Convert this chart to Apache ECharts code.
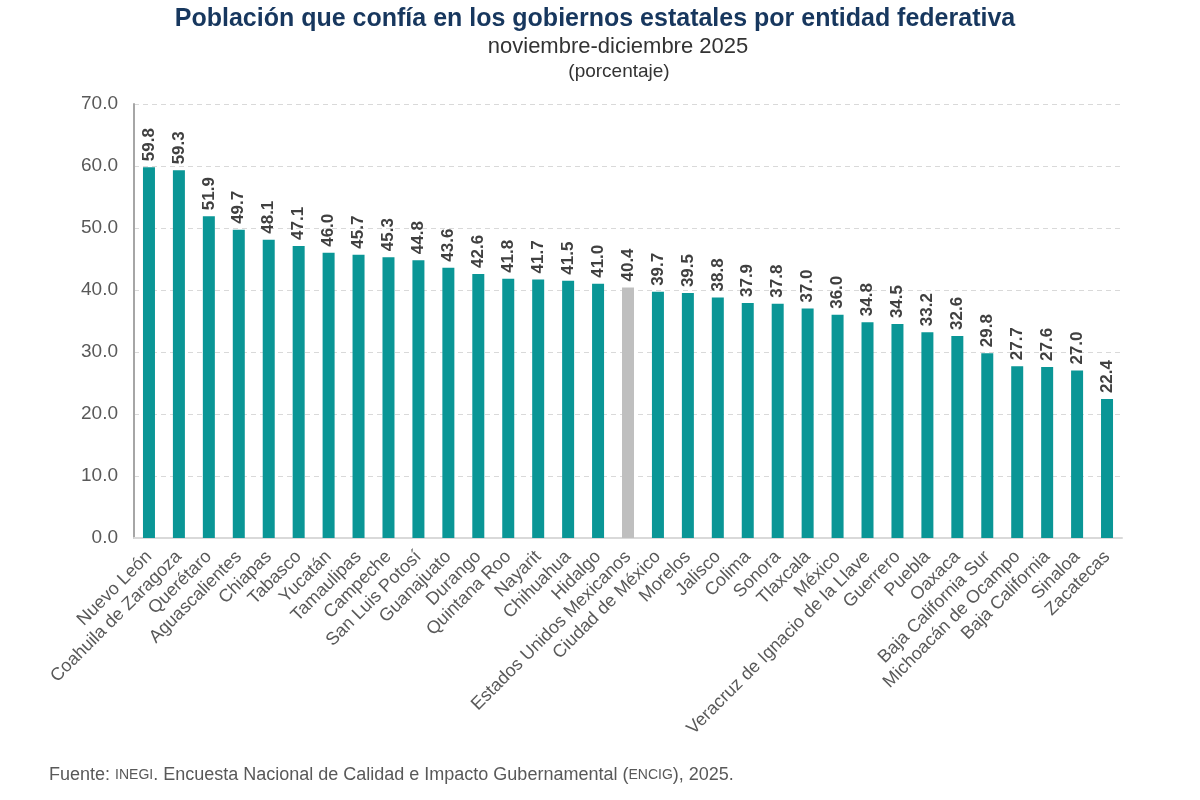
<!DOCTYPE html>
<html>
<head>
<meta charset="utf-8">
<script src="https://cdn.jsdelivr.net/npm/echarts@6/dist/echarts.min.js"></script>
<style>
html,body{margin:0;padding:0;background:#fff;}
#chart{width:1200px;height:800px;}
</style>
</head>
<body>
<div id="chart"></div>
<script>
var estados = ['Nuevo León','Coahuila de Zaragoza','Querétaro','Aguascalientes','Chiapas','Tabasco','Yucatán','Tamaulipas','Campeche','San Luis Potosí','Guanajuato','Durango','Quintana Roo','Nayarit','Chihuahua','Hidalgo','Estados Unidos Mexicanos','Ciudad de México','Morelos','Jalisco','Colima','Sonora','Tlaxcala','México','Veracruz de Ignacio de la Llave','Guerrero','Puebla','Oaxaca','Baja California Sur','Michoacán de Ocampo','Baja California','Sinaloa','Zacatecas'];
var valores = [59.8,59.3,51.9,49.7,48.1,47.1,46.0,45.7,45.3,44.8,43.6,42.6,41.8,41.7,41.5,41.0,40.4,39.7,39.5,38.8,37.9,37.8,37.0,36.0,34.8,34.5,33.2,32.6,29.8,27.7,27.6,27.0,22.4];
var nacional = 'Estados Unidos Mexicanos';

var datos = [];
for (var i = 0; i < estados.length; i++) {
  datos.push({
    value: valores[i],
    itemStyle: { color: estados[i] == nacional ? '#bfbfbf' : '#0a9696' }
  });
}

var chart = echarts.init(document.getElementById('chart'));
chart.setOption({
  backgroundColor: '#fff',
  animation: false,
  title: [{
    text: 'Población que confía en los gobiernos estatales por entidad federativa',
    left: 590, top: 2, textAlign: 'center',
    textStyle: { fontFamily: 'Liberation Sans', fontSize: 25, fontWeight: 'bold', color: '#17375e' }
  }, {
    text: 'noviembre-diciembre 2025',
    left: 613, top: 31, textAlign: 'center',
    textStyle: { fontFamily: 'Liberation Sans', fontSize: 22, fontWeight: 'normal', color: '#333' }
  }, {
    text: '(porcentaje)',
    left: 614, top: 57, textAlign: 'center',
    textStyle: { fontFamily: 'Liberation Sans', fontSize: 19, fontWeight: 'normal', color: '#333' }
  }, {
    text: 'Fuente: {s|INEGI}. Encuesta Nacional de Calidad e Impacto Gubernamental ({s|ENCIG}), 2025.',
    left: 44, top: 761,
    textStyle: {
      fontFamily: 'Liberation Sans', fontSize: 18, fontWeight: 'normal', color: '#595959',
      rich: { s: { fontFamily: 'Liberation Sans', fontSize: 14, color: '#595959' } }
    }
  }],
  grid: { left: 134, right: 78, top: 104, bottom: 262 },
  xAxis: {
    type: 'category',
    data: estados,
    axisLine: { lineStyle: { color: '#d9d9d9', width: 2 } },
    axisTick: { show: false },
    axisLabel: {
      interval: 0, rotate: 45, margin: 16,
      fontFamily: 'Liberation Sans', fontSize: 18, color: '#595959'
    }
  },
  yAxis: {
    type: 'value',
    min: 0, max: 70, interval: 10,
    axisLine: { show: true, lineStyle: { color: '#a6a6a6', width: 2 } },
    axisTick: { show: false },
    splitLine: { lineStyle: { color: '#d9d9d9', type: [5, 4] } },
    axisLabel: {
      margin: 16,
      formatter: function (v) { return v.toFixed(1); },
      fontFamily: 'Liberation Sans', fontSize: 19, color: '#595959'
    }
  },
  series: [{
    type: 'bar',
    data: datos,
    barWidth: 12,
    label: {
      show: true, position: 'top', rotate: 90,
      align: 'left', verticalAlign: 'middle', distance: 6,
      formatter: function (p) { return p.value.toFixed(1); },
      fontFamily: 'Liberation Sans', fontSize: 17, fontWeight: 'bold', color: '#404040'
    }
  }]
});
</script>
</body>
</html>
